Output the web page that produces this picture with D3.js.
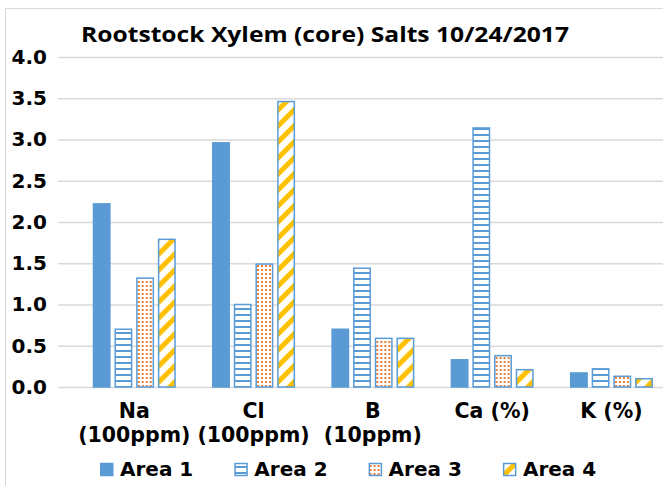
<!DOCTYPE html>
<html>
<head>
<meta charset="utf-8">
<script src="https://cdn.jsdelivr.net/npm/d3@7"></script>
<style>
  body { margin: 0; background: #fff; }
  svg { display: block; }
  .tick-label, .cat-label, .legend-label { font-family: "DejaVu Sans", Verdana, sans-serif; font-weight: bold; font-size: 20px; fill: #000; }
  .cat-label { font-size: 20.5px; }
  .chart-title { font-family: "Open Sans", sans-serif; font-weight: bold; font-size: 20.5px; fill: #000; }
</style>
</head>
<body>
<div id="chart"></div>
<script>
const title = 'Rootstock Xylem (core) Salts 10/24/2017';
const categories = ['Na (100ppm)', 'Cl (100ppm)', 'B (10ppm)', 'Ca (%)', 'K (%)'];
const categoryLines = [['Na', '(100ppm)'], ['Cl', '(100ppm)'], ['B', '(10ppm)'], ['Ca (%)'], ['K (%)']];
const seriesNames = ['Area 1', 'Area 2', 'Area 3', 'Area 4'];
const area1 = [2.22, 2.96, 0.70, 0.33, 0.17];
const area2 = [0.70, 1.00, 1.44, 3.14, 0.22];
const area3 = [1.32, 1.49, 0.59, 0.38, 0.13];
const area4 = [1.79, 3.46, 0.59, 0.21, 0.10];
const yTicks = [0, 0.5, 1, 1.5, 2, 2.5, 3, 3.5, 4];

class GroupedBarChart {
  constructor(_config) {
    this.config = {
      parentElement: _config.parentElement,
      containerWidth: 663,
      containerHeight: 486,
      plotLeft: 58,
      bandStart: 74.6,
      bandEnd: 671.1,
      yTop: 57,
      yBottom: 387,
      legendLeft: 100,
      legendStep: 134.3,
      legendY: 476
    };
    this.series = [area1, area2, area3, area4];
    this.initVis();
  }

  initVis() {
    let vis = this;
    const c = vis.config;

    vis.svg = d3.select(c.parentElement).append('svg')
      .attr('width', c.containerWidth)
      .attr('height', c.containerHeight);

    // fill patterns that mimic the excel pattern fills
    const defs = vis.svg.append('defs');

    const hLines = defs.append('pattern')
      .attr('id', 'pat-area2')
      .attr('patternUnits', 'userSpaceOnUse')
      .attr('width', 6).attr('height', 6);
    hLines.append('rect').attr('width', 6).attr('height', 6).attr('fill', '#fff');
    hLines.append('rect').attr('y', 2).attr('width', 6).attr('height', 2).attr('fill', '#5b9bd5');

    const dots = defs.append('pattern')
      .attr('id', 'pat-area3')
      .attr('patternUnits', 'userSpaceOnUse')
      .attr('width', 4).attr('height', 4);
    dots.append('rect').attr('width', 4).attr('height', 4).attr('fill', '#fff');
    dots.append('rect').attr('x', 1).attr('y', 1).attr('width', 2).attr('height', 2).attr('fill', '#ed7d31');

    const diag = defs.append('pattern')
      .attr('id', 'pat-area4')
      .attr('patternUnits', 'userSpaceOnUse')
      .attr('width', 16).attr('height', 16);
    diag.append('rect').attr('width', 16).attr('height', 16).attr('fill', '#fff');
    diag.append('path')
      .attr('d', 'M-4,4 L4,-4 M0,16 L16,0 M12,20 L20,12')
      .attr('stroke', '#ffc000')
      .attr('stroke-width', 5);

    vis.fills = ['#5b9bd5', 'url(#pat-area2)', 'url(#pat-area3)', 'url(#pat-area4)'];

    // chart area border
    vis.svg.append('path')
      .attr('d', `M5.5,${c.containerHeight} V8.5 H${c.containerWidth}`)
      .attr('fill', 'none')
      .attr('stroke', '#d9d9d9')
      .attr('stroke-width', 1);

    vis.xScale = d3.scaleBand()
      .domain(categories)
      .range([c.bandStart, c.bandEnd])
      .paddingInner(0.304)
      .paddingOuter(0.152);

    vis.xSub = d3.scaleBand()
      .domain(seriesNames)
      .range([0, vis.xScale.bandwidth()])
      .paddingInner(0.175);

    vis.yScale = d3.scaleLinear()
      .domain([0, 4])
      .range([c.yBottom, c.yTop]);

    vis.yAxis = d3.axisLeft(vis.yScale)
      .tickValues(yTicks)
      .tickSize(-(c.containerWidth - c.plotLeft))
      .tickPadding(11)
      .tickFormat(d3.format('.1f'));

    vis.renderVis();
  }

  renderVis() {
    let vis = this;
    const c = vis.config;

    // gridlines + y labels
    vis.svg.append('g')
      .attr('transform', `translate(${c.plotLeft},0)`)
      .call(vis.yAxis)
      .call(g => g.select('.domain').remove())
      .call(g => g.selectAll('.tick line').attr('stroke', '#d9d9d9').attr('stroke-width', 1.5))
      .call(g => g.selectAll('.tick text').attr('class', 'tick-label').attr('x', 47 - c.plotLeft));

    // bars
    const groups = vis.svg.append('g').selectAll('.group')
      .data(categories)
      .join('g')
      .attr('class', 'group')
      .attr('transform', d => `translate(${vis.xScale(d)},0)`);

    groups.selectAll('rect')
      .data((d, i) => seriesNames.map((s, j) => ({ s: s, j: j, v: vis.series[j][i] })))
      .join('rect')
      .attr('x', d => vis.xSub(d.s) + 0.75)
      .attr('width', vis.xSub.bandwidth() - 1.5)
      .attr('y', d => vis.yScale(d.v))
      .attr('height', d => vis.yScale(0) - vis.yScale(d.v))
      .attr('fill', d => vis.fills[d.j])
      .attr('stroke', '#5b9bd5')
      .attr('stroke-width', 1.5);

    // category labels
    const labels = vis.svg.append('g').selectAll('.cat-label')
      .data(categories)
      .join('text')
      .attr('class', 'cat-label')
      .attr('text-anchor', 'middle')
      .attr('x', d => vis.xScale(d) + vis.xScale.bandwidth() / 2)
      .attr('y', 418);
    labels.selectAll('tspan')
      .data((d, i) => categoryLines[i])
      .join('tspan')
      .attr('x', function () { return d3.select(this.parentNode).attr('x'); })
      .attr('dy', (d, i) => i === 0 ? 0 : 24)
      .text(d => d);

    // title (stretched to the width it has in the original)
    vis.svg.append('text')
      .attr('class', 'chart-title')
      .attr('x', 81)
      .attr('y', 42)
      .attr('textLength', 488)
      .attr('lengthAdjust', 'spacingAndGlyphs')
      .text(title);

    // legend
    const legend = vis.svg.append('g').selectAll('.legend-item')
      .data(seriesNames)
      .join('g')
      .attr('class', 'legend-item')
      .attr('transform', (d, i) => `translate(${c.legendLeft + i * c.legendStep},${c.legendY})`);
    legend.append('rect')
      .attr('x', 0.75)
      .attr('y', -12.5)
      .attr('width', 12)
      .attr('height', 12)
      .attr('fill', (d, i) => vis.fills[i])
      .attr('stroke', '#5b9bd5')
      .attr('stroke-width', 1.5);
    legend.append('text')
      .attr('class', 'legend-label')
      .attr('x', 20)
      .text(d => d);
  }
}

new GroupedBarChart({ parentElement: '#chart' });
</script>
</body>
</html>
